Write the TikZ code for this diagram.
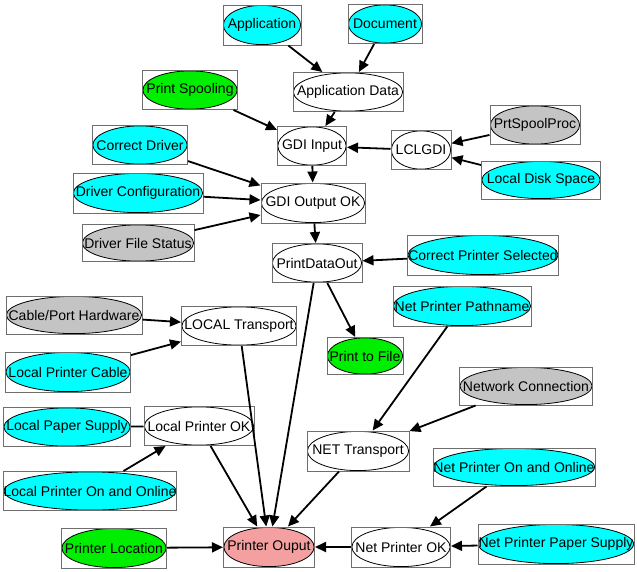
\documentclass[tikz,border=0pt]{standalone}
\usepackage{fontspec}
\setmainfont{Liberation Sans}
\usetikzlibrary{arrows.meta,calc}
\definecolor{ncyan}{HTML}{00FFFF}
\definecolor{ngreen}{HTML}{00EE00}
\definecolor{ngray}{HTML}{C4C4C4}
\definecolor{npink}{HTML}{F4A0A0}
\definecolor{nbox}{HTML}{6E6E6E}
\tikzset{
  nd/.style n args={3}{rectangle, draw=nbox, line width=1pt, inner sep=0pt,
    minimum width=#1, minimum height=#2,
    font=\fontsize{14}{16}\selectfont,
    path picture={\draw[black, line width=0.8pt, fill=#3]
      let \p1=(path picture bounding box.south west),
          \p2=(path picture bounding box.north east) in
      (path picture bounding box.center) ellipse ({(\x2-\x1)/2-0.4pt} and {(\y2-\y1)/2-0.4pt});}},
  ar/.style={-{Triangle[length=11pt,width=10pt]}, line width=1.8pt, black},
  ln/.style={line width=1.8pt, black}
}
\begin{document}
\begin{tikzpicture}[x=1pt,y=-1pt]
\useasboundingbox (0,0) rectangle (637,571);
\node[nd={78pt}{40pt}{ncyan}] (app) at (262,25) {Application};
\node[nd={74pt}{39pt}{ncyan}] (doc) at (385,24) {Document};
\node[nd={110pt}{39pt}{white}] (appdata) at (348,92) {Application Data};
\node[nd={95pt}{39pt}{ngreen}] (spool) at (190,90) {Print Spooling};
\node[nd={69pt}{39pt}{white}] (gdiin) at (312,146) {GDI Input};
\node[nd={60pt}{39pt}{white}] (lclgdi) at (421,150) {LCLGDI};
\node[nd={90pt}{39pt}{ngray}] (prtspool) at (535,125) {PrtSpoolProc};
\node[nd={119pt}{38pt}{ncyan}] (disk) at (541,180) {Local Disk Space};
\node[nd={95pt}{39pt}{ncyan}] (cdrv) at (140,145) {Correct Driver};
\node[nd={130pt}{40pt}{ncyan}] (dcfg) at (138,193) {Driver Configuration};
\node[nd={104pt}{40pt}{white}] (gdiout) at (313,203) {GDI Output OK};
\node[nd={112pt}{37pt}{ngray}] (dfs) at (138,243) {Driver File Status};
\node[nd={90pt}{39pt}{white}] (pdo) at (317,263) {PrintDataOut};
\node[nd={151pt}{40pt}{ncyan}] (cps) at (483,255) {Correct Printer Selected};
\node[nd={138pt}{40pt}{ncyan}] (npp) at (462,306) {Net Printer Pathname};
\node[nd={76pt}{37pt}{ngreen}] (ptf) at (365,356) {Print to File};
\node[nd={136pt}{38pt}{ngray}] (cable) at (74,315) {Cable/Port Hardware};
\node[nd={115pt}{39pt}{white}] (ltr) at (239,326) {LOCAL Transport};
\node[nd={125pt}{40pt}{ncyan}] (lpc) at (68,372) {Local Printer Cable};
\node[nd={133pt}{38pt}{ngray}] (netc) at (526,386) {Network Connection};
\node[nd={127pt}{39pt}{ncyan}] (lps) at (67,427) {Local Paper Supply};
\node[nd={110pt}{39pt}{white}] (lpok) at (199,426) {Local Printer OK};
\node[nd={102pt}{40pt}{white}] (ntr) at (358,451) {NET Transport};
\node[nd={171pt}{39pt}{ncyan}] (lpoo) at (90,491) {Local Printer On and Online};
\node[nd={162pt}{38pt}{ncyan}] (npoo) at (514,467) {Net Printer On and Online};
\node[nd={105pt}{40pt}{ngreen}] (ploc) at (114,548) {Printer Location};
\node[nd={91pt}{40pt}{npink}] (pout) at (269,547) {Printer Ouput};
\node[nd={99pt}{40pt}{white}] (npok) at (401,547) {Net Printer OK};
\node[nd={156pt}{40pt}{ncyan}] (npps) at (556,544) {Net Printer Paper Supply};

\draw[ar] (app) -- (appdata);
\draw[ar] (doc) -- (appdata);
\draw[ar] (appdata) -- (gdiin);
\draw[ar] (spool) -- (gdiin);
\draw[ar] (lclgdi) -- (gdiin);
\draw[ar] (prtspool) -- (lclgdi);
\draw[ar] (disk) -- (lclgdi);
\draw[ar] (gdiin) -- (gdiout);
\draw[ar] (cdrv) -- (gdiout);
\draw[ar] (dcfg) -- (gdiout);
\draw[ar] (dfs) -- (gdiout);
\draw[ar] (gdiout) -- (pdo);
\draw[ar] (cps) -- (pdo);
\draw[ar] (pdo) -- (ptf);
\draw[ar] (pdo) -- (pout);
\draw[ar] (cable) -- (ltr);
\draw[ar] (lpc) -- (ltr);
\draw[ar] (ltr) -- (pout);
\draw[ar] (npp) -- (ntr);
\draw[ar] (netc) -- (ntr);
\draw[ar] (ntr) -- (pout);
\draw[ln] (lps) -- (lpok);
\draw[ar] (lpoo) -- (lpok);
\draw[ar] (lpok) -- (pout);
\draw[ar] (ploc) -- (pout);
\draw[ar] (npoo) -- (npok);
\draw[ar] (npps) -- (npok);
\draw[ar] (npok) -- (pout);
\end{tikzpicture}
\end{document}
